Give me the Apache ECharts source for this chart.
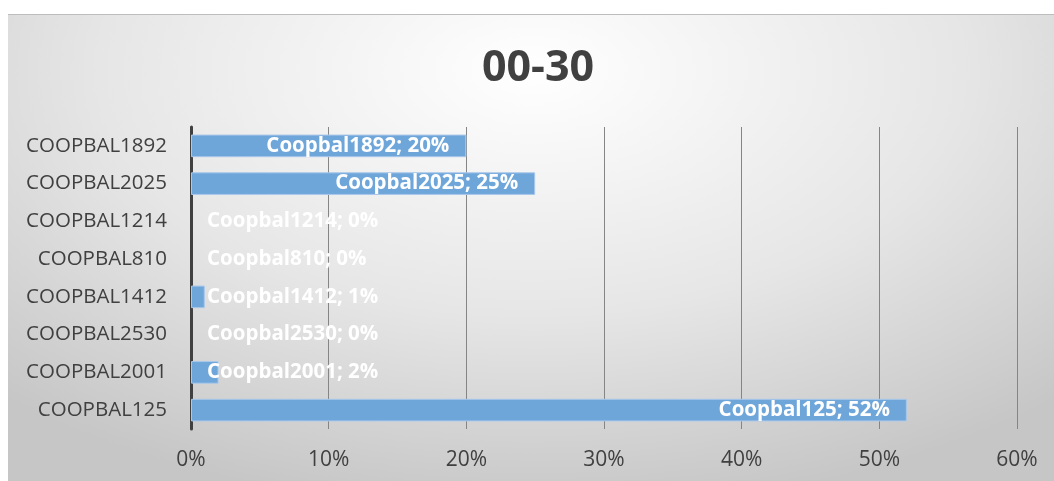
<!DOCTYPE html>
<html>
<head>
<meta charset="utf-8">
<script src="https://cdn.jsdelivr.net/npm/echarts@6/dist/echarts.min.js"></script>
<style>
  html, body { margin: 0; padding: 0; background: #fff; }
  #chart {
    position: absolute; left: 8px; top: 14px; width: 1046px; height: 467px;
    border-top: 1px solid #bdbdbd; box-sizing: border-box;
    background: radial-gradient(ellipse 75% 95% at 50% 12%, #ffffff 0%, #e6e6e6 55%, #c6c6c6 100%);
  }
</style>
</head>
<body>
<div id="chart"></div>
<script>
  // categories top to bottom
  const categories = ['COOPBAL1892', 'COOPBAL2025', 'COOPBAL1214', 'COOPBAL810', 'COOPBAL1412', 'COOPBAL2530', 'COOPBAL2001', 'COOPBAL125'];
  const labelNames = ['Coopbal1892', 'Coopbal2025', 'Coopbal1214', 'Coopbal810', 'Coopbal1412', 'Coopbal2530', 'Coopbal2001', 'Coopbal125'];
  const shares = [0.20, 0.25, 0, 0, 0.01, 0, 0.02, 0.52];
  const xTicks = [0, 0.1, 0.2, 0.3, 0.4, 0.5, 0.6];

  const chart = echarts.init(document.getElementById('chart'));

  const barData = shares.map(function (v, i) {
    return {
      value: v,
      name: labelNames[i],
      itemStyle: v === 0 ? { borderWidth: 0 } : {},
      label: v < 0.1 ? { position: 'insideLeft', distance: 16 } : { position: 'insideRight', distance: 17 }
    };
  });

  const option = {
    backgroundColor: 'transparent',
    textStyle: { fontFamily: 'Open Sans' },
    title: {
      text: '00-30',
      left: 525,
      textAlign: 'center',
      top: 27,
      textStyle: { fontSize: 43, fontWeight: 'bold', color: '#404040', fontFamily: 'Open Sans' }
    },
    grid: { left: 183, right: 37, top: 112, bottom: 52 },
    xAxis: {
      type: 'value',
      min: xTicks[0],
      max: xTicks[xTicks.length - 1],
      interval: 0.1,
      axisLine: { show: false },
      axisTick: { show: false },
      splitLine: { show: true, lineStyle: { color: '#858585', width: 1 } },
      axisLabel: {
        margin: 21,
        color: '#404040',
        fontSize: 21,
        formatter: function (v) { return Math.round(v * 100) + '%'; }
      }
    },
    yAxis: {
      type: 'category',
      inverse: true,
      data: categories,
      axisLine: { show: true, lineStyle: { color: '#404040', width: 3 } },
      axisTick: { show: false },
      axisLabel: { margin: 24, color: '#404040', fontSize: 20.5 }
    },
    series: [
      {
        name: 'Share',
        type: 'bar',
        barWidth: '60%',
        data: barData,
        z: 1,
        itemStyle: { color: '#6fa6da', borderColor: '#a9c8ea', borderWidth: 1 },
        label: {
          show: true,
          color: '#ffffff',
          fontWeight: 'bold',
          fontSize: 20.5,
          fontFamily: 'Open Sans',
          formatter: function (p) { return p.name + '; ' + Math.round(p.value * 100) + '%'; }
        }
      }
    ]
  };
  chart.setOption(option);
</script>
</body>
</html>
